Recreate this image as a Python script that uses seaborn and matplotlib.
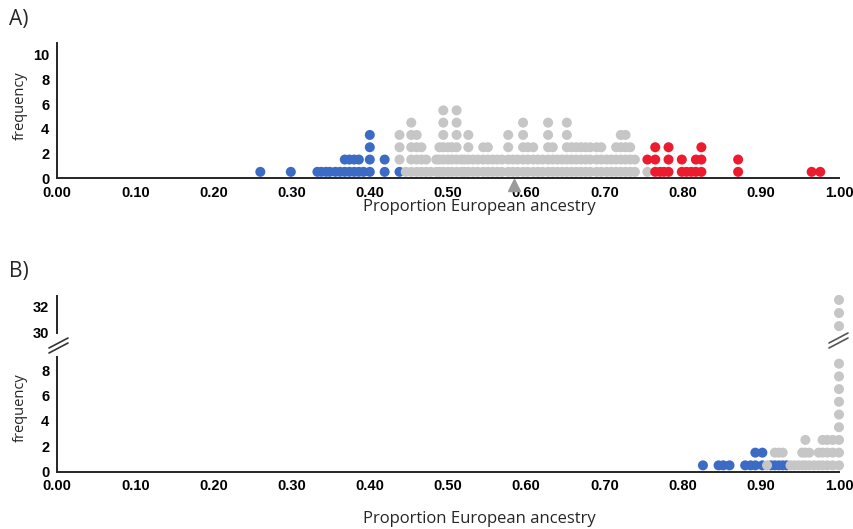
import numpy as np
import pandas as pd
import matplotlib.pyplot as plt
from matplotlib.lines import Line2D
import seaborn as sns

# Panel A - dot columns (x = proportion European ancestry, n = dots in that column)
a_blue_x = [0.260, 0.299, 0.333, 0.338, 0.344, 0.349, 0.356, 0.362, 0.368, 0.374, 0.380, 0.386, 0.392, 0.400, 0.419, 0.438]
a_blue_n = [1, 1, 1, 1, 1, 1, 1, 1, 2, 2, 2, 2, 1, 4, 2, 1]

a_gray_x = [0.438, 0.446, 0.453, 0.460, 0.466, 0.472, 0.478, 0.485, 0.489, 0.494, 0.500, 0.505,
            0.511, 0.517, 0.521, 0.526, 0.532, 0.538, 0.545, 0.551, 0.557, 0.563, 0.569, 0.577,
            0.583, 0.589, 0.596, 0.602, 0.609, 0.615, 0.621, 0.628, 0.634, 0.640, 0.646, 0.652,
            0.658, 0.664, 0.670, 0.676, 0.682, 0.690, 0.696, 0.703, 0.709, 0.715, 0.721, 0.727,
            0.733, 0.739, 0.755]
a_gray_n = [3, 1, 5, 4, 3, 2, 1, 2, 3, 6, 3, 3,
            6, 2, 2, 4, 2, 2, 3, 3, 2, 2, 2, 4,
            2, 2, 5, 3, 3, 2, 2, 5, 3, 2, 2, 5,
            3, 3, 3, 3, 3, 3, 3, 2, 2, 3, 4, 4,
            3, 2, 1]

a_red_x = [0.755, 0.765, 0.771, 0.776, 0.782, 0.799, 0.805, 0.811, 0.817, 0.824, 0.871, 0.965, 0.976]
a_red_n = [1, 3, 1, 1, 3, 2, 1, 1, 2, 3, 2, 1, 1]

a_mean = 0.585  # grey arrow under the axis

# Panel B
b_blue_x = [0.826, 0.846, 0.852, 0.860, 0.880, 0.887, 0.893, 0.902, 0.913, 0.918, 0.923, 0.928, 0.933]
b_blue_n = [1, 1, 1, 1, 1, 1, 2, 2, 1, 1, 1, 1, 1]

b_gray_x = [0.908, 0.918, 0.923, 0.928, 0.938, 0.943, 0.948, 0.953, 0.957, 0.962, 0.968,
            0.974, 0.979, 0.985, 0.992, 1.000]
b_gray_n = [1, 1, 1, 1, 1, 1, 1, 2, 3, 2, 1, 2, 3, 3, 3, 33]

x_ticks = np.arange(0, 1.01, 0.1)
x_labels = [f"{v:.2f}" for v in x_ticks]

colors = {"blue": "#3b6bc4", "gray": "#c6c6c6", "red": "#ec1c2e"}
label_font = ["Open Sans", "DejaVu Sans"]


def stack(groups):
    # turn columns into single dots, stacked blue -> gray -> red
    height = {}
    rows = []
    for grp, xs, ns in groups:
        for x, n in zip(xs, ns):
            key = round(x, 3)
            h = height.get(key, 0)
            for i in range(n):
                rows.append({"x": x, "y": h + i + 0.5, "grp": grp})
            height[key] = h + n
    return pd.DataFrame(rows)


df_a = stack([("blue", a_blue_x, a_blue_n), ("gray", a_gray_x, a_gray_n), ("red", a_red_x, a_red_n)])
df_b = stack([("blue", b_blue_x, b_blue_n), ("gray", b_gray_x, b_gray_n)])

sns.set_style("white")
plt.rcParams["font.family"] = ["Liberation Sans", "DejaVu Sans"]

fig = plt.figure(figsize=(8.54, 5.29), dpi=100)
W, H = 854, 529


def px_axes(x0, y_top, x1, y_bot):
    return fig.add_axes([x0 / W, 1 - y_bot / H, (x1 - x0) / W, (y_bot - y_top) / H])


axA = px_axes(57, 42.7, 839, 178)
axB = px_axes(57, 356.7, 839, 471.7)
axBt = px_axes(57, 296, 839, 333.3)

dot_s = 52


def style(ax, show_x=True):
    ax.set_xlim(0, 1)
    for side in ["top", "right"]:
        ax.spines[side].set_visible(False)
    ax.spines["left"].set_linewidth(1.4)
    ax.spines["bottom"].set_linewidth(1.4)
    ax.tick_params(direction="out", length=4, width=1.3, labelsize=10.5, pad=1.5, colors="black")
    if show_x:
        ax.set_xticks(x_ticks)
        ax.set_xticklabels(x_labels)
    else:
        ax.spines["bottom"].set_visible(False)
        ax.set_xticks([])
    for lab in ax.get_xticklabels() + ax.get_yticklabels():
        lab.set_fontweight("bold")
    ax.set_facecolor("none")


# panel A
sns.scatterplot(data=df_a, x="x", y="y", hue="grp", palette=colors, s=dot_s, linewidth=0,
                legend=False, clip_on=False, ax=axA)
axA.plot([a_mean], [-0.55], marker="^", ms=8, color="#9a9a9a", clip_on=False, zorder=1)
axA.set_ylim(0, 11)
axA.set_yticks(range(0, 11, 2))
style(axA)
axA.set_xlabel("Proportion European ancestry", family=label_font, fontsize=12, va="center")
axA.xaxis.set_label_coords((479 - 57) / 782, (178 - 207) / 135.3)
axA.set_ylabel("frequency", family=label_font, fontsize=10.5, va="center")
axA.yaxis.set_label_coords((20 - 57) / 782, (178 - 106) / 135.3)

# panel B, lower part
low = df_b[df_b["y"] < 9.05]
sns.scatterplot(data=low, x="x", y="y", hue="grp", palette=colors, s=dot_s, linewidth=0,
                legend=False, clip_on=False, ax=axB)
axB.set_ylim(0, 9.05)
axB.set_yticks(range(0, 9, 2))
style(axB)
axB.set_xlabel("Proportion European ancestry", family=label_font, fontsize=12, va="center")
axB.xaxis.set_label_coords((479 - 57) / 782, (471.7 - 519) / 115)
axB.set_ylabel("frequency", family=label_font, fontsize=10.5, va="center")
axB.yaxis.set_label_coords((20 - 57) / 782, (471.7 - 408) / 115)

# panel B, upper part above the break
high = df_b[df_b["y"] > 29.95]
sns.scatterplot(data=high, x="x", y="y", hue="grp", palette=colors, s=dot_s, linewidth=0,
                legend=False, clip_on=False, ax=axBt)
axBt.set_ylim(29.95, 32.8)
axBt.set_yticks([30, 32])
style(axBt, show_x=False)
axBt.set_xlabel("")
axBt.set_ylabel("")


# break marks "//"
def brk(x0, y0, color):
    for dy in (0, 5):
        fig.add_artist(Line2D([(x0) / W, (x0 + 19) / W],
                              [1 - (y0 + dy) / H, 1 - (y0 + dy - 10) / H],
                              color=color, lw=1.2))


brk(49, 348, "#333333")
brk(829, 343, "#555555")

fig.text(9 / W, 1 - 19 / H, "A)", fontsize=15, va="center", family=label_font)
fig.text(9 / W, 1 - 272 / H, "B)", fontsize=15, va="center", family=label_font)

fig.savefig("out.png", dpi=100)
